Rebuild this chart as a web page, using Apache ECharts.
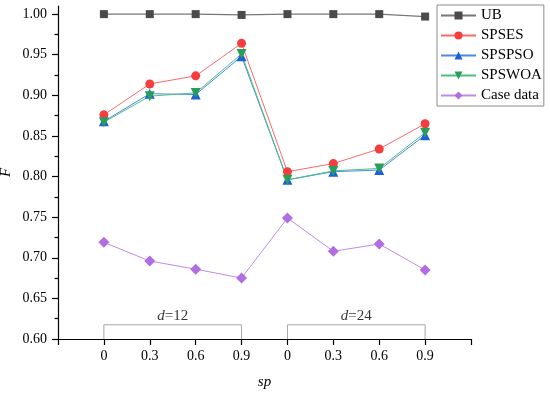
<!DOCTYPE html>
<html><head><meta charset="utf-8">
<script src="https://cdn.jsdelivr.net/npm/echarts@6/dist/echarts.min.js"></script>
<style>html,body{margin:0;padding:0;background:#fff}#c{width:550px;height:396px}</style>
</head><body><div id="c"></div>
<script>
const positions = [1, 2, 3, 4, 5, 6, 7, 8];
const xTickLabels = ['0', '0.3', '0.6', '0.9', '0', '0.3', '0.6', '0.9'];
const yTicks = [0.60, 0.65, 0.70, 0.75, 0.80, 0.85, 0.90, 0.95, 1.00];
const yMinorTicks = [0.625, 0.675, 0.725, 0.775, 0.825, 0.875, 0.925, 0.975];
const ub = [1.000, 1.000, 1.000, 0.999, 1.000, 1.000, 1.000, 0.997];
const spses = [0.876, 0.914, 0.924, 0.964, 0.806, 0.816, 0.834, 0.865];
const spspso = [0.868, 0.902, 0.901, 0.948, 0.796, 0.806, 0.808, 0.851];
const spswoa = [0.867, 0.899, 0.903, 0.951, 0.796, 0.807, 0.810, 0.854];
const caseData = [0.719, 0.696, 0.686, 0.675, 0.749, 0.708, 0.717, 0.685];
const groupValues = ['12', '24'];
const groupStart = [1, 5];
const groupEnd = [4, 8];
const bracketLevel = 0.6175;

const FONT = '"Liberation Serif", "Times New Roman", serif';
const chart = echarts.init(document.getElementById('c'));

function pts(arr) { return arr.map((v, i) => [positions[i], v]); }
function lineSeries(name, data, symbol, size, markerColor, lineColor, lw) {
  return {
    name, type: 'line', data: pts(data), symbol, symbolSize: size,
    itemStyle: { color: markerColor },
    lineStyle: { color: lineColor, width: lw },
    emphasis: { disabled: true }, animation: false
  };
}

const bracketSeries = [];
groupValues.forEach((g, k) => {
  bracketSeries.push({
    type: 'line', data: [[groupStart[k], 0.6], [groupStart[k], bracketLevel], [groupEnd[k], bracketLevel], [groupEnd[k], 0.6]],
    symbol: 'none', lineStyle: { color: '#a6a6a6', width: 1 }, silent: true, animation: false, z: 1
  });
  bracketSeries.push({
    type: 'scatter', data: [[(groupStart[k] + groupEnd[k]) / 2, bracketLevel]],
    symbolSize: 0, silent: true, animation: false,
    label: {
      show: true, position: 'top', distance: 1,
      formatter: '{i|d}{n|=' + g + '}',
      rich: {
        i: { fontFamily: FONT, fontSize: 15, fontStyle: 'italic', color: '#000' },
        n: { fontFamily: FONT, fontSize: 15, color: '#000' }
      }
    }
  });
});

chart.setOption({
  animation: false,
  grid: { left: 58, right: 79, top: 6, bottom: 57, containLabel: false, outerBoundsMode: 'none' },
  legend: {
    data: ['UB', 'SPSES', 'SPSPSO', 'SPSWOA', 'Case data'],
    orient: 'vertical', left: 437, top: 5,
    itemWidth: 35, itemHeight: 10, itemGap: 5,
    padding: [3, 2, 3, 3],
    borderColor: '#8c8c8c', borderWidth: 1, backgroundColor: '#fff',
    textStyle: { fontFamily: FONT, fontSize: 15, color: '#000', lineHeight: 15 }
  },
  xAxis: {
    type: 'value', min: 0, max: 9, interval: 1,
    name: 'sp', nameLocation: 'middle', nameGap: 36, nameMoveOverlap: false,
    nameTextStyle: { fontFamily: FONT, fontSize: 15, fontStyle: 'italic', color: '#000' },
    axisLine: { show: true, onZero: false, lineStyle: { color: '#000', width: 1.2 } },
    axisTick: { show: true, inside: false, length: 6, lineStyle: { color: '#000', width: 1.2 } },
    axisLabel: {
      fontFamily: FONT, fontSize: 14, color: '#000', margin: 10,
      formatter: v => (v >= 1 && v <= 8) ? xTickLabels[v - 1] : ''
    },
    splitLine: { show: false }
  },
  yAxis: [{
    type: 'value', min: 0.6, max: 1.01, interval: 0.05,
    name: 'F', nameLocation: 'middle', nameGap: 44, nameRotate: 90, nameMoveOverlap: false,
    nameTextStyle: { fontFamily: FONT, fontSize: 15, fontStyle: 'italic', color: '#000' },
    axisLine: { show: true, onZero: false, lineStyle: { color: '#000', width: 1.2 } },
    axisTick: { show: true, inside: false, length: 6, customValues: yTicks, lineStyle: { color: '#000', width: 1.2 } },
    axisLabel: { fontFamily: FONT, fontSize: 14, color: '#000', margin: 11, customValues: yTicks, formatter: v => v.toFixed(2) },
    splitLine: { show: false }
  }, {
    type: 'value', min: 0.6, max: 1.01, position: 'left',
    axisLine: { show: false },
    axisTick: { show: true, inside: false, length: 3.5, customValues: yMinorTicks, lineStyle: { color: '#000', width: 1.2 } },
    axisLabel: { show: false },
    splitLine: { show: false }
  }],
  series: [
    lineSeries('UB', ub, 'rect', 8, '#4a4a4a', '#777777', 1.3),
    lineSeries('SPSES', spses, 'circle', 9, '#f53d3d', '#f76b6b', 1),
    lineSeries('SPSPSO', spspso, 'triangle', 10, '#1d5fd8', '#4a8ae8', 1),
    lineSeries('SPSWOA', spswoa, 'path://M0,0 L10,0 L5,9 Z', 10, '#2a9d5c', '#4fbf80', 1),
    lineSeries('Case data', caseData, 'diamond', 11, '#b06ee2', '#c08aea', 1)
  ].concat(bracketSeries)
});
</script>
</body></html>
